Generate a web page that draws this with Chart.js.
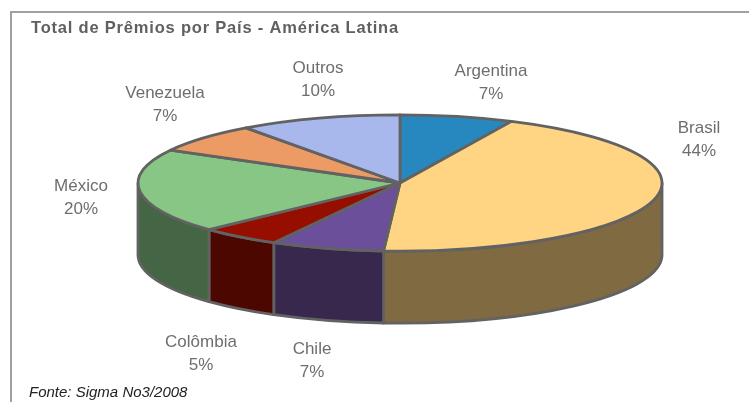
<!DOCTYPE html>
<html lang="pt">
<head>
<meta charset="utf-8">
<title>Total de Prêmios por País - América Latina</title>
<script src="https://cdn.jsdelivr.net/npm/chart.js@4/dist/chart.umd.min.js"></script>
<style>
    html, body { margin: 0; padding: 0; background: #fff; overflow: hidden; }
    #box { position: relative; width: 749px; height: 402px; }
    #frame { position: absolute; left: 10px; top: 11px; right: 0; bottom: 0; border-left: 2px solid #a0a0a0; border-top: 2px solid #a0a0a0; }
    #pie { position: absolute; left: 0; top: 0; }
</style>
</head>
<body>
<div id="box">
    <div id="frame"></div>
    <canvas id="pie" width="749" height="402"></canvas>
</div>
<script>
'use strict';

const chartTitle = 'Total de Prêmios por País - América Latina';
const sourceNote = 'Fonte: Sigma No3/2008';

const countries = ['Argentina', 'Brasil', 'Chile', 'Colômbia', 'México', 'Venezuela', 'Outros'];
const shares = [7, 44, 7, 5, 20, 7, 10];

const topColors = ['#2787bf', '#ffd584', '#6b4f9a', '#960e00', '#88c685', '#ec9b64', '#a8b8ec'];
const wallColors = ['#134460', '#806a42', '#39284e', '#4b0700', '#456644', '#764e32', '#545c76'];

// Centre of each two-line label on the page
const labelX = [491, 699, 312, 201, 81, 165, 318];
const labelY = [71, 128, 349, 342, 186, 93, 68];

const TILT = 0.26;    // vertical squash of the disc
const DEPTH = 72;     // height of the wall
const EDGE = '#626262';

// Draws the pie arcs as a tilted disc, using the angles the doughnut controller computed
const disc3d = {
    id: 'disc3d',
    beforeDatasetsDraw(chart) {
        const ctx = chart.ctx;
        const arcs = chart.getDatasetMeta(0).data;
        ctx.save();
        ctx.lineJoin = 'round';

        // walls first, only the part of the rim that faces the viewer
        arcs.forEach((arc, i) => {
            const from = Math.max(arc.startAngle, 0);
            const to = Math.min(arc.endAngle, Math.PI);
            if (to <= from) return;
            const rx = arc.outerRadius, ry = rx * TILT;
            ctx.beginPath();
            ctx.ellipse(arc.x, arc.y, rx, ry, 0, from, to);
            ctx.ellipse(arc.x, arc.y + DEPTH, rx, ry, 0, to, from, true);
            ctx.closePath();
            ctx.fillStyle = wallColors[i];
            ctx.fill();
            ctx.strokeStyle = arc.options.borderColor;
            ctx.lineWidth = arc.options.borderWidth;
            ctx.stroke();
        });

        // then the top faces
        arcs.forEach(arc => {
            const rx = arc.outerRadius, ry = rx * TILT;
            ctx.beginPath();
            ctx.moveTo(arc.x, arc.y);
            ctx.ellipse(arc.x, arc.y, rx, ry, 0, arc.startAngle, arc.endAngle);
            ctx.closePath();
            ctx.fillStyle = arc.options.backgroundColor;
            ctx.fill();
            ctx.strokeStyle = arc.options.borderColor;
            ctx.lineWidth = arc.options.borderWidth;
            ctx.stroke();
        });
        ctx.restore();
        return false; // the flat arcs are not drawn
    },
    afterDraw(chart) {
        const ctx = chart.ctx;
        ctx.save();
        ctx.textBaseline = 'middle';

        // title
        ctx.textAlign = 'left';
        ctx.fillStyle = '#606060';
        ctx.font = 'bold 16.5px "Liberation Sans"';
        ctx.letterSpacing = '0.8px';
        ctx.fillText(chartTitle, 31, 28);
        ctx.letterSpacing = '0px';

        // slice labels: name and share
        ctx.textAlign = 'center';
        ctx.fillStyle = '#6e6e6e';
        ctx.font = '17px "Liberation Sans"';
        countries.forEach((name, i) => {
            ctx.fillText(name, labelX[i], labelY[i]);
            ctx.fillText(shares[i] + '%', labelX[i], labelY[i] + 23);
        });

        // source
        ctx.textAlign = 'left';
        ctx.fillStyle = '#222';
        ctx.font = 'italic 15px "Liberation Sans"';
        ctx.fillText(sourceNote, 29, 393);
        ctx.restore();
    }
};

new Chart(document.getElementById('pie'), {
    type: 'pie',
    data: {
        labels: countries,
        datasets: [{ data: shares, backgroundColor: topColors, borderColor: EDGE, borderWidth: 2.8 }]
    },
    options: {
        responsive: false,
        animation: false,
        radius: 262,
        layout: { padding: { left: 51, bottom: 36 } },
        plugins: { legend: { display: false }, tooltip: { enabled: false } }
    },
    plugins: [disc3d]
});
</script>
</body>
</html>
